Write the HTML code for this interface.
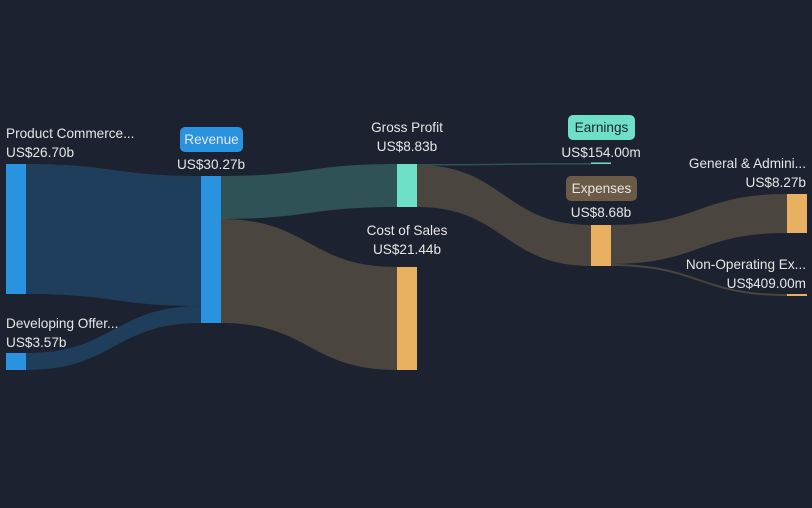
<!DOCTYPE html>
<html><head><style>
body{margin:0;width:812px;height:503px;background:#1c2230;overflow:hidden;font-family:"Liberation Sans",sans-serif}
svg text{font-family:"Liberation Sans",sans-serif;font-size:13.6px;fill:#e6e6e6}
</style></head><body>
<svg width="812" height="503" viewBox="0 0 812 503">
<rect width="812" height="503" fill="#1c2230"/>
<path d="M26,164 C114,164 114,176 201,176 L201,306 C114,306 114,294 26,294 Z" fill="#1f3e5c"/>
<path d="M26,353 C114,353 114,306 201,306 L201,323 C114,323 114,370 26,370 Z" fill="#1f3e5c"/>
<path d="M221,176 C309,176 309,164 397,164 L397,207 C309,207 309,219 221,219 Z" fill="#2e5256"/>
<path d="M221,219 C309,219 309,267 397,267 L397,370 C309,370 309,323 221,323 Z" fill="#4a453f"/>
<path d="M417,164 C504,164 504,163 591,163 L591,164.5 C504,164.5 504,165.5 417,165.5 Z" fill="#2e5256"/>
<path d="M417,165 C504,165 504,225 591,225 L591,266 C504,266 504,207 417,207 Z" fill="#4a453f"/>
<path d="M611,225 C699,225 699,194 787,194 L787,233 C699,233 699,264 611,264 Z" fill="#4a453f"/>
<path d="M611,264 C699,264 699,294 787,294 L787,296 C699,296 699,266 611,266 Z" fill="#4a453f"/>
<rect x="6" y="164" width="20" height="130" fill="#2a93e0"/>
<rect x="6" y="353" width="20" height="17" fill="#2a93e0"/>
<rect x="201" y="176" width="20" height="147" fill="#2a93e0"/>
<rect x="397" y="164" width="20" height="43" fill="#6ee0c8"/>
<rect x="397" y="267" width="20" height="103" fill="#e8b060"/>
<rect x="591" y="162.5" width="20" height="1.5" fill="#6ee0c8"/>
<rect x="591" y="225" width="20" height="41" fill="#e8b060"/>
<rect x="787" y="194" width="20" height="39" fill="#e8b060"/>
<rect x="787" y="294" width="20" height="2" fill="#e8b060"/>
<text x="6" y="138">Product Commerce...</text>
<text x="6" y="157">US$26.70b</text>
<text x="6" y="328">Developing Offer...</text>
<text x="6" y="347">US$3.57b</text>
<rect x="180" y="127" width="63" height="25" rx="5" fill="#2a93e0"/>
<text x="211.5" y="144" text-anchor="middle" fill="#fff">Revenue</text>
<text x="211" y="169" text-anchor="middle">US$30.27b</text>
<text x="407" y="132" text-anchor="middle">Gross Profit</text>
<text x="407" y="151" text-anchor="middle">US$8.83b</text>
<text x="407" y="235" text-anchor="middle">Cost of Sales</text>
<text x="407" y="254" text-anchor="middle">US$21.44b</text>
<rect x="568" y="115" width="67" height="25" rx="5" fill="#6ee0c8"/>
<text x="601.5" y="132" text-anchor="middle" style="fill:#1c2230">Earnings</text>
<text x="601" y="157" text-anchor="middle">US$154.00m</text>
<rect x="566" y="176" width="71" height="25" rx="5" fill="#6b5a45"/>
<text x="601.5" y="193" text-anchor="middle" fill="#fff">Expenses</text>
<text x="601" y="217" text-anchor="middle">US$8.68b</text>
<text x="806" y="168" text-anchor="end">General &amp; Admini...</text>
<text x="806" y="187" text-anchor="end">US$8.27b</text>
<text x="806" y="269" text-anchor="end">Non-Operating Ex...</text>
<text x="806" y="288" text-anchor="end">US$409.00m</text>
</svg>
</body></html>
